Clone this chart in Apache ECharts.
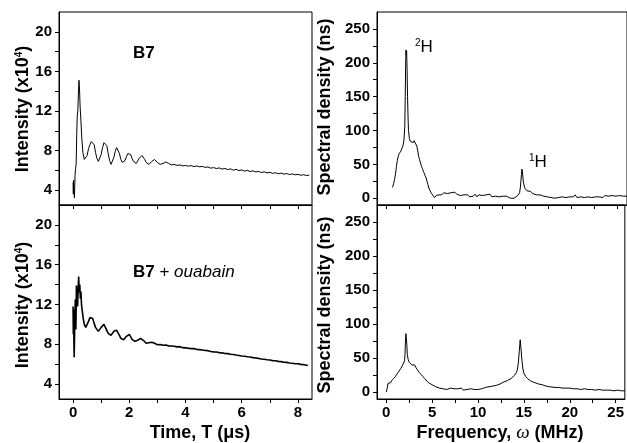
<!DOCTYPE html>
<html>
<head>
<meta charset="utf-8">
<script src="https://cdn.jsdelivr.net/npm/echarts@6/dist/echarts.min.js"></script>
<style>
  html, body { margin: 0; padding: 0; background: #fff; }
  #main { width: 627px; height: 443px; }
</style>
</head>
<body>
<div id="main"></div>
<script>
// ---- data ----
// B7, intensity (x10^4) vs time (us)
var timeB7 = [0.00,0.01,0.02,0.03,0.05,0.07,0.09,0.11,0.13,0.15,0.17,0.19,0.21,0.23,0.25,0.28,0.31,0.35,0.40,0.45,
  0.50,0.55,0.60,0.65,0.70,0.75,0.80,0.85,0.90,0.95,1.00,1.05,1.10,1.15,1.20,1.25,1.30,1.35,1.40,1.45,
  1.50,1.55,1.60,1.65,1.70,1.75,1.80,1.85,1.90,1.95,2.00,2.05,2.10,2.15,2.20,2.25,2.30,2.35,2.40,2.45,
  2.50,2.55,2.60,2.65,2.70,2.75,2.80,2.85,2.90,2.95,3.00,3.05,3.10,3.15,3.20,3.25,3.30,3.35,3.40,3.45,3.50,
  3.6,3.7,3.8,3.9,4.0,4.1,4.2,4.3,4.4,4.5,4.6,4.7,4.8,4.9,5.0,5.1,5.2,5.3,5.4,5.5,5.6,5.7,5.8,5.9,
  6.0,6.1,6.2,6.3,6.4,6.5,6.6,6.7,6.8,6.9,7.0,7.1,7.2,7.3,7.4,7.5,7.6,7.7,7.8,7.9,8.0,8.1,8.2,8.3,8.4];
var intB7 = [4.8,3.6,5.0,3.8,3.2,5.5,6.2,6.6,9.5,11.6,12.0,13.8,15.1,14.2,12.5,11.0,9.3,7.8,7.1,7.0,
  7.5,8.2,8.6,8.9,9.0,8.6,7.8,7.2,6.9,7.1,7.6,8.3,8.8,8.9,8.5,7.7,7.0,6.6,6.8,7.3,
  7.9,8.3,8.2,7.7,7.1,6.8,6.7,7.0,7.4,7.7,7.8,7.6,7.2,6.9,6.7,6.7,6.9,7.2,7.4,7.5,
  7.4,7.1,6.8,6.7,6.6,6.7,6.9,7.0,7.1,7.0,6.8,6.6,6.6,6.6,6.7,6.8,6.85,6.8,6.7,6.6,6.55,
  6.6,6.5,6.55,6.45,6.5,6.42,6.48,6.38,6.45,6.36,6.4,6.3,6.35,6.22,6.28,6.18,6.25,6.12,6.2,6.08,6.15,6.02,6.1,5.98,
  6.04,5.92,6.0,5.88,5.95,5.84,5.9,5.78,5.85,5.74,5.8,5.7,5.76,5.66,5.72,5.62,5.68,5.58,5.64,5.55,5.6,5.5,5.56,5.48,5.52];

// B7 + ouabain
var timeOua = [0.00,0.01,0.02,0.03,0.04,0.06,0.08,0.10,0.12,0.14,0.16,0.18,0.20,0.22,0.24,0.26,0.28,0.30,0.33,0.36,
  0.40,0.45,0.50,0.55,0.60,0.65,0.70,0.75,0.80,0.85,0.90,0.95,1.00,1.05,1.10,1.15,1.20,1.25,1.30,1.35,
  1.40,1.45,1.50,1.55,1.60,1.65,1.70,1.75,1.80,1.85,1.90,1.95,2.00,2.05,2.10,2.15,2.20,2.25,2.30,2.35,
  2.40,2.45,2.50,2.55,2.60,2.65,2.70,2.75,2.80,2.85,2.90,2.95,3.00,
  3.1,3.2,3.3,3.4,3.5,3.6,3.7,3.8,3.9,4.0,4.1,4.2,4.3,4.4,4.5,4.6,4.7,4.8,4.9,5.0,5.1,5.2,5.3,5.4,5.5,
  5.6,5.7,5.8,5.9,6.0,6.1,6.2,6.3,6.4,6.5,6.6,6.7,6.8,6.9,7.0,7.1,7.2,7.3,7.4,7.5,7.6,7.7,7.8,7.9,8.0,8.1,8.2,8.3,8.35];
var intOua = [11.8,9.0,11.5,8.5,6.7,10.0,12.5,9.5,13.9,12.8,11.8,13.5,14.8,13.2,14.0,12.6,13.3,12.0,11.3,10.6,
  10.0,9.7,9.9,10.3,10.7,10.9,10.6,10.1,9.7,9.5,9.3,9.5,9.7,9.9,10.0,9.8,9.4,9.1,9.0,8.9,
  9.1,9.3,9.45,9.4,9.2,8.9,8.6,8.5,8.45,8.6,8.8,8.95,9.0,8.8,8.5,8.35,8.3,8.3,8.4,8.5,
  8.6,8.55,8.4,8.2,8.1,8.1,8.15,8.2,8.2,8.15,8.1,8.0,7.95,
  7.98,7.9,7.92,7.84,7.82,7.8,7.74,7.76,7.66,7.64,7.6,7.56,7.58,7.48,7.46,7.42,7.38,7.36,7.28,7.24,7.22,7.16,7.14,7.08,7.06,
  7.0,6.98,6.92,6.88,6.82,6.8,6.74,6.72,6.66,6.62,6.58,6.52,6.5,6.44,6.42,6.36,6.34,6.28,6.26,6.2,6.18,6.12,6.1,6.04,6.05,5.98,5.96,5.9,5.88];

// spectral density (ns) vs frequency (MHz), B7
var freqB7 = [0.68,0.8,0.9,1.0,1.1,1.2,1.3,1.4,1.5,1.6,1.7,1.8,1.9,2.0,2.05,2.1,2.13,2.17,2.2,2.25,2.3,2.35,2.4,2.5,2.6,2.7,2.8,2.9,
  3.0,3.1,3.2,3.3,3.4,3.5,3.6,3.7,3.8,3.9,4.0,4.1,4.2,4.3,4.4,4.5,4.6,4.7,4.8,4.9,5.0,5.1,5.2,5.3,5.4,5.5,5.6,5.7,
  5.8,6.0,6.2,6.4,6.6,6.8,7.0,7.2,7.4,7.6,7.8,8.0,8.2,8.4,8.6,8.8,9.0,9.2,9.4,9.6,9.8,10.0,10.2,10.4,10.6,10.8,
  11.0,11.2,11.4,11.6,11.8,12.0,12.2,12.4,12.6,12.8,13.0,13.2,13.4,13.6,13.8,14.0,14.2,14.4,14.5,14.6,14.65,14.7,14.8,14.9,
  15.0,15.2,15.4,15.6,15.8,16.0,16.2,16.4,16.6,16.8,17.0,17.2,17.4,17.6,17.8,18.0,18.2,18.4,18.6,18.8,19.0,19.2,19.4,19.6,19.8,
  20.0,20.2,20.4,20.6,20.8,21.0,21.2,21.4,21.6,21.8,22.0,22.2,22.4,22.6,22.8,23.0,23.2,23.4,23.6,23.8,24.0,24.2,24.4,24.6,24.8,
  25.0,25.2,25.4,25.6,25.8,26.0];
var specB7 = [16,22,28,36,47,56,62,66,68,70,74,77,85,105,150,205,219,212,217,190,150,121,100,88,84,82,83,82,
  85,87,84,77,70,62,57,52,47,44,40,37,33,30,25,20,15,12,9,7,5,3,1,0,4,2,6,5,
  7,5,8,6,7,5,8,6,9,6,7,4,6,5,3,5,2,4,3,6,2,5,3,4,2,5,
  3,6,2,4,3,5,2,4,3,1,3,1,0,1,0,2,4,8,18,35,43,40,25,18,
  14,11,9,10,7,8,5,7,5,6,3,4,2,3,1,2,0,2,1,3,2,4,1,3,2,
  4,2,5,1,3,2,4,1,3,2,4,1,3,2,4,2,3,1,4,2,3,1,4,2,3,
  2,4,2,3,2,3];

// B7 + ouabain
var freqOua = [0,0.1,0.2,0.3,0.4,0.5,0.6,0.7,0.8,0.9,1.0,1.1,1.2,1.3,1.4,1.5,1.6,1.7,1.8,1.9,2.0,2.05,2.1,2.15,2.2,2.25,2.3,2.4,2.5,
  2.6,2.7,2.8,2.9,3.0,3.1,3.2,3.3,3.4,3.5,3.6,3.7,3.8,3.9,4.0,4.2,4.4,4.6,4.8,5.0,5.2,5.4,5.6,5.8,6.0,6.2,6.4,6.6,6.8,
  7.0,7.2,7.4,7.6,7.8,8.0,8.2,8.4,8.6,8.8,9.0,9.2,9.4,9.6,9.8,10.0,10.2,10.4,10.6,10.8,11.0,11.2,11.4,11.6,11.8,
  12.0,12.2,12.4,12.6,12.8,13.0,13.2,13.4,13.6,13.8,14.0,14.2,14.3,14.4,14.5,14.6,14.7,14.8,14.9,15.0,15.2,15.4,15.6,15.8,
  16.0,16.2,16.4,16.6,16.8,17.0,17.2,17.4,17.6,17.8,18.0,18.4,18.8,19.2,19.6,20.0,20.4,20.8,21.2,21.6,22.0,22.4,22.8,
  23.2,23.6,24.0,24.4,24.8,25.2,25.6,26.0];
var specOua = [0,5,13,11,15,14,17,18,20,21,23,24,27,28,31,33,35,37,40,42,46,55,75,86,84,70,55,48,44,
  42,43,40,41,39,40,37,36,33,32,29,28,26,24,23,20,18,14,12,11,9,8,7,6,6,5,6,4,5,
  6,4,5,3,5,4,6,3,5,4,3,5,3,4,5,4,6,5,6,7,6,8,8,9,10,
  10,12,12,13,15,15,17,18,20,22,25,29,34,43,60,77,62,45,34,28,23,20,18,16,
  15,14,13,12,11,11,10,9,9,8,9,7,7,6,6,6,5,5,4,5,4,4,3,
  4,3,3,3,2,3,2,2];

// tick positions
var timeLabels = [0, 2, 4, 6, 8];
var timeTicks = [0, 1, 2, 3, 4, 5, 6, 7, 8];
var intLabels = [4, 8, 12, 16, 20];
var intTicks = [4, 6, 8, 10, 12, 14, 16, 18, 20];
var freqLabels = [0, 5, 10, 15, 20, 25];
var freqTicks = [0, 2.5, 5, 7.5, 10, 12.5, 15, 17.5, 20, 22.5, 25];
var specLabels = [0, 50, 100, 150, 200, 250];
var specTicks = [0, 25, 50, 75, 100, 125, 150, 175, 200, 225, 250];

function pairs(xs, ys) {
  var out = [];
  for (var i = 0; i < xs.length; i++) out.push([xs[i], ys[i]]);
  return out;
}

var FONT = 'Liberation Sans, Arial, sans-serif';
var lbl = { color: '#000', fontFamily: FONT, fontWeight: 'bold', fontSize: 15 };

function xAx(grid, min, max, labels, ticks, showLabels) {
  return {
    gridIndex: grid, type: 'value', min: min, max: max,
    axisLine: { onZero: false, lineStyle: { color: '#000', width: 1 } },
    axisTick: { customValues: ticks, length: 4, lineStyle: { color: '#000', width: 1 } },
    axisLabel: Object.assign({ show: showLabels, customValues: labels, margin: 6 }, lbl),
    splitLine: { show: false }
  };
}
function yAx(grid, min, max, labels, ticks) {
  return {
    gridIndex: grid, type: 'value', min: min, max: max,
    axisLine: { onZero: false, lineStyle: { color: '#000', width: 1 } },
    axisTick: { customValues: ticks, length: 4, lineStyle: { color: '#000', width: 1 } },
    axisLabel: Object.assign({ customValues: labels, margin: 7 }, lbl),
    splitLine: { show: false }
  };
}
function line(xi, yi, data, w) {
  return {
    type: 'line', xAxisIndex: xi, yAxisIndex: yi, data: data,
    showSymbol: false, symbol: 'none', silent: true,
    lineStyle: { color: '#000', width: w }
  };
}

var chart = echarts.init(document.getElementById('main'));
var gridBox = { show: true, borderColor: '#000', borderWidth: 1, backgroundColor: 'transparent' };

chart.setOption({
  animation: false,
  backgroundColor: '#fff',
  grid: [
    Object.assign({ left: 59, top: 12, width: 253, height: 193 }, gridBox),
    Object.assign({ left: 59, top: 205, width: 253, height: 194 }, gridBox),
    Object.assign({ left: 377, top: 12, width: 254, height: 193 }, gridBox),
    Object.assign({ left: 377, top: 205, width: 254, height: 194 }, gridBox)
  ],
  xAxis: [
    xAx(0, -0.5, 8.5, timeLabels, timeTicks, false),
    xAx(1, -0.5, 8.5, timeLabels, timeTicks, true),
    xAx(2, -1, 26, freqLabels, freqTicks, false),
    xAx(3, -1, 26, freqLabels, freqTicks, true)
  ],
  yAxis: [
    yAx(0, 2.5, 22, intLabels, intTicks),
    yAx(1, 2.5, 22, intLabels, intTicks),
    yAx(2, -10, 275, specLabels, specTicks),
    yAx(3, -10, 275, specLabels, specTicks)
  ],
  series: [
    line(0, 0, pairs(timeB7, intB7), 1),
    line(1, 1, pairs(timeOua, intOua), 1.6),
    line(2, 2, pairs(freqB7, specB7), 1),
    line(3, 3, pairs(freqOua, specOua), 1)
  ],
  graphic: [
    // axis titles
    { type: 'text', x: 23, y: 109, rotation: Math.PI / 2,
      style: { text: '{a|Intensity (x10}{s|4}{a|)}', align: 'center', verticalAlign: 'middle',
        rich: { a: { fontFamily: FONT, fontWeight: 'bold', fontSize: 18, fill: '#000' },
                s: { fontFamily: FONT, fontWeight: 'bold', fontSize: 10, fill: '#000', verticalAlign: 'top' } } } },
    { type: 'text', x: 23, y: 305, rotation: Math.PI / 2,
      style: { text: '{a|Intensity (x10}{s|4}{a|)}', align: 'center', verticalAlign: 'middle',
        rich: { a: { fontFamily: FONT, fontWeight: 'bold', fontSize: 18, fill: '#000' },
                s: { fontFamily: FONT, fontWeight: 'bold', fontSize: 10, fill: '#000', verticalAlign: 'top' } } } },
    { type: 'text', x: 325, y: 107, rotation: Math.PI / 2,
      style: { text: 'Spectral density (ns)', align: 'center', verticalAlign: 'middle',
        font: 'bold 18px ' + FONT, fill: '#000' } },
    { type: 'text', x: 325, y: 305, rotation: Math.PI / 2,
      style: { text: 'Spectral density (ns)', align: 'center', verticalAlign: 'middle',
        font: 'bold 18px ' + FONT, fill: '#000' } },
    { type: 'text', x: 200, y: 433,
      style: { text: 'Time, T (\u03bcs)', align: 'center', verticalAlign: 'middle',
        font: 'bold 18px ' + FONT, fill: '#000' } },
    { type: 'text', x: 500, y: 433,
      style: { text: '{a|Frequency, }{w|\u03c9}{a| (MHz)}', align: 'center', verticalAlign: 'middle',
        rich: { a: { fontFamily: FONT, fontWeight: 'bold', fontSize: 18, fill: '#000' },
                w: { fontFamily: 'Liberation Serif, serif', fontStyle: 'italic', fontSize: 19, fill: '#000' } } } },
    // panel labels
    { type: 'text', x: 133, y: 53,
      style: { text: 'B7', align: 'left', verticalAlign: 'middle', font: 'bold 17px ' + FONT, fill: '#000' } },
    { type: 'text', x: 133, y: 272,
      style: { text: '{b|B7}{n| + }{i|ouabain}', align: 'left', verticalAlign: 'middle',
        rich: { b: { fontFamily: FONT, fontWeight: 'bold', fontSize: 17, fill: '#000' },
                n: { fontFamily: FONT, fontSize: 17, fill: '#000' },
                i: { fontFamily: FONT, fontStyle: 'italic', fontSize: 17, fill: '#000' } } } },
    { type: 'text', x: 415, y: 47,
      style: { text: '{s|2}{h|H}', align: 'left', verticalAlign: 'middle',
        rich: { s: { fontFamily: FONT, fontSize: 10, fill: '#000', verticalAlign: 'top' },
                h: { fontFamily: FONT, fontSize: 17, fill: '#000' } } } },
    { type: 'text', x: 529, y: 162,
      style: { text: '{s|1}{h|H}', align: 'left', verticalAlign: 'middle',
        rich: { s: { fontFamily: FONT, fontSize: 10, fill: '#000', verticalAlign: 'top' },
                h: { fontFamily: FONT, fontSize: 17, fill: '#000' } } } }
  ]
});
</script>
</body>
</html>
